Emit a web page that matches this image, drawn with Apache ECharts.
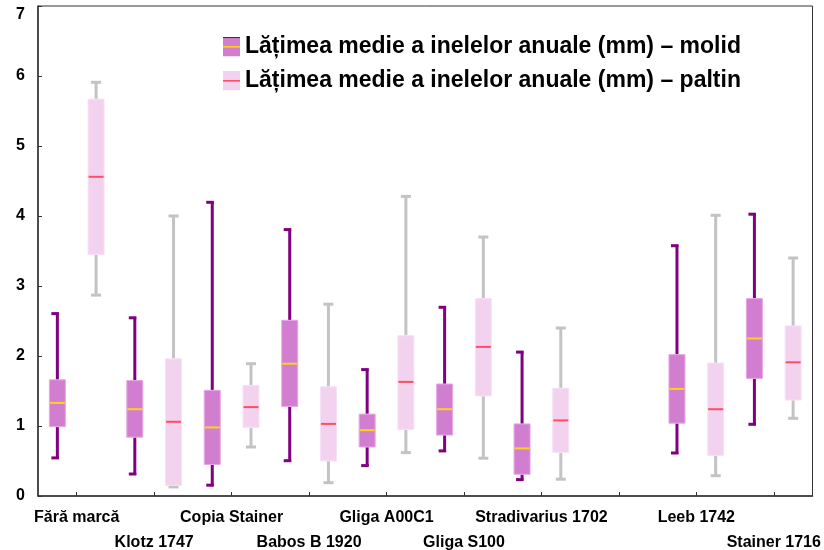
<!DOCTYPE html>
<html>
<head>
<meta charset="utf-8">
<script src="https://cdn.jsdelivr.net/npm/echarts@6/dist/echarts.min.js"></script>
<style>html,body{margin:0;padding:0;background:#fff}#c{width:824px;height:550px}</style>
</head>
<body>
<div id="c"></div>
<script>
// Categories (index 7 is an empty slot in the reference)
const categories = ['Fără marcă','Klotz 1747','Copia Stainer','Babos B 1920','Gliga A00C1','Gliga S100','Stradivarius 1702','','Leeb 1742','Stainer 1716'];
const yTicks = [0,1,2,3,4,5,6,7];
// [min, Q1, median, Q3, max]
const molid = [
  [0.53, 0.99, 1.33, 1.66, 2.62],
  [0.30, 0.84, 1.24, 1.65, 2.56],
  [0.14, 0.45, 0.98, 1.51, 4.21],
  [0.49, 1.28, 1.89, 2.51, 3.82],
  [0.42, 0.70, 0.94, 1.17, 1.82],
  [0.63, 0.87, 1.24, 1.60, 2.71],
  [0.22, 0.31, 0.68, 1.03, 2.07],
  null,
  [0.60, 1.04, 1.53, 2.02, 3.59],
  [1.01, 1.68, 2.25, 2.82, 4.04]
];
const paltin = [
  [2.87, 3.45, 4.56, 5.67, 5.91],
  [0.13, 0.15, 1.06, 1.96, 4.00],
  [0.70, 0.98, 1.27, 1.58, 1.89],
  [0.19, 0.50, 1.03, 1.56, 2.74],
  [0.62, 0.95, 1.63, 2.29, 4.28],
  [0.54, 1.43, 2.13, 2.82, 3.70],
  [0.24, 0.62, 1.08, 1.54, 2.40],
  null,
  [0.29, 0.58, 1.24, 1.90, 4.01],
  [1.11, 1.37, 1.91, 2.43, 3.40]
];
const seriesNames = ['Lățimea medie a inelelor anuale (mm) – molid','Lățimea medie a inelelor anuale (mm) – paltin'];

const styles = [
  {fill:'#D27ED0', border:'#E6A8E4', whisker:'#800080', median:'#FFD21A', halfCap:true, shift:-0.25},
  {fill:'#F2D2EF', border:'#F7E2F5', whisker:'#C3C3C3', median:'#FF4D66', halfCap:false, shift:0.25}
];

function toData(arr){
  const out = [];
  arr.forEach((d,i)=>{ if(d) out.push([i].concat(d)); });
  return out;
}

function makeRender(st){
  return function(params, api){
    const cat = api.value(0);
    const band = api.size([1,0])[0];
    const cx = api.coord([cat,0])[0] + st.shift*band;
    const y = k => api.coord([cat, api.value(k)])[1];
    const yMin=y(1), yQ1=y(2), yMed=y(3), yQ3=y(4), yMax=y(5);
    const bw = 16, lw = 3;
    const wl = {stroke: st.whisker, lineWidth: lw, lineCap:'butt'};
    const ch = [];
    ch.push({type:'line', shape:{x1:cx,y1:yQ3,x2:cx,y2:yMax}, style:wl});
    ch.push({type:'line', shape:{x1:cx,y1:yQ1,x2:cx,y2:yMin}, style:wl});
    if(st.halfCap){
      ch.push({type:'line', shape:{x1:cx-6,y1:yMax+1,x2:cx+1.5,y2:yMax+1}, style:wl});
      ch.push({type:'line', shape:{x1:cx-6,y1:yMin-1,x2:cx+1.5,y2:yMin-1}, style:wl});
    } else {
      ch.push({type:'line', shape:{x1:cx-5,y1:yMax,x2:cx+5,y2:yMax}, style:wl});
      ch.push({type:'line', shape:{x1:cx-5,y1:yMin,x2:cx+5,y2:yMin}, style:wl});
    }
    ch.push({type:'rect', shape:{x:cx-bw/2, y:yQ3, width:bw, height:yQ1-yQ3}, style:{fill:st.fill, stroke:st.border, lineWidth:1}});
    ch.push({type:'line', shape:{x1:cx-bw/2+0.5,y1:yMed,x2:cx+bw/2-0.5,y2:yMed}, style:{stroke:st.median, lineWidth:2}});
    return {type:'group', children:ch};
  };
}

function iconSvg(st, top){
  const svg = '<svg xmlns="http://www.w3.org/2000/svg" width="17" height="20" viewBox="0 0 17 20">' +
    (top ? '<rect x="0" y="0" width="17" height="2" fill="'+st.whisker+'"/>' : '') +
    '<rect x="0" y="'+(top?2:0)+'" width="17" height="'+(top?18:20)+'" fill="'+st.fill+'"/>' +
    '<rect x="0" y="9.5" width="17" height="1.6" fill="'+st.median+'"/></svg>';
  return 'image://data:image/svg+xml;charset=utf-8,' + encodeURIComponent(svg);
}

const FONT = 'Arial, "Liberation Sans", sans-serif';
const chart = echarts.init(document.getElementById('c'), null, {renderer:'canvas'});
chart.setOption({
  animation:false,
  backgroundColor:'#fff',
  textStyle:{fontFamily:FONT},
  grid:{left:38, right:11.5, top:6, bottom:54, show:true, borderColor:'#333', borderWidth:1, backgroundColor:'transparent',
        containLabel:false, outerBoundsMode:'none'},
  legend:{
    orient:'vertical', left:218, top:30, itemWidth:17, itemHeight:20, itemGap:11,
    textStyle:{fontSize:23, fontWeight:'bold', color:'#000', fontFamily:FONT},
    data:[
      {name:seriesNames[0], icon:iconSvg(styles[0], true)},
      {name:seriesNames[1], icon:iconSvg(styles[1], false)}
    ]
  },
  xAxis:{
    type:'category', data:categories, boundaryGap:true,
    axisLine:{lineStyle:{color:'#333', width:1.5}},
    axisTick:{show:true, inside:true, length:4, alignWithLabel:true, lineStyle:{color:'#333'}},
    axisLabel:{interval:0, margin:9, fontSize:16, fontWeight:'bold', color:'#000', lineHeight:25, fontFamily:FONT,
      hideOverlap:false,
      formatter:(v,i)=> (i%2 ? '\n'+v : v)},
    splitLine:{show:false}
  },
  yAxis:{
    type:'value', min:0, max:7, interval:1,
    axisLine:{show:true, lineStyle:{color:'#333', width:1.5}},
    axisTick:{show:true, inside:true, length:4, lineStyle:{color:'#333'}},
    axisLabel:{margin:13, fontSize:16, fontWeight:'bold', color:'#000', fontFamily:FONT,
      formatter:v=> (v===7 ? '{t|7}' : String(v)),
      rich:{t:{fontSize:16, fontWeight:'bold', color:'#000', padding:[18,0,0,0]}}},
    splitLine:{show:false}
  },
  series:[
    {name:seriesNames[0], type:'custom', renderItem:makeRender(styles[0]), data:toData(molid),
     encode:{x:0, y:[1,2,3,4,5]}, itemStyle:{color:styles[0].fill}, clip:false},
    {name:seriesNames[1], type:'custom', renderItem:makeRender(styles[1]), data:toData(paltin),
     encode:{x:0, y:[1,2,3,4,5]}, itemStyle:{color:styles[1].fill}, clip:false}
  ]
});
</script>
</body>
</html>
